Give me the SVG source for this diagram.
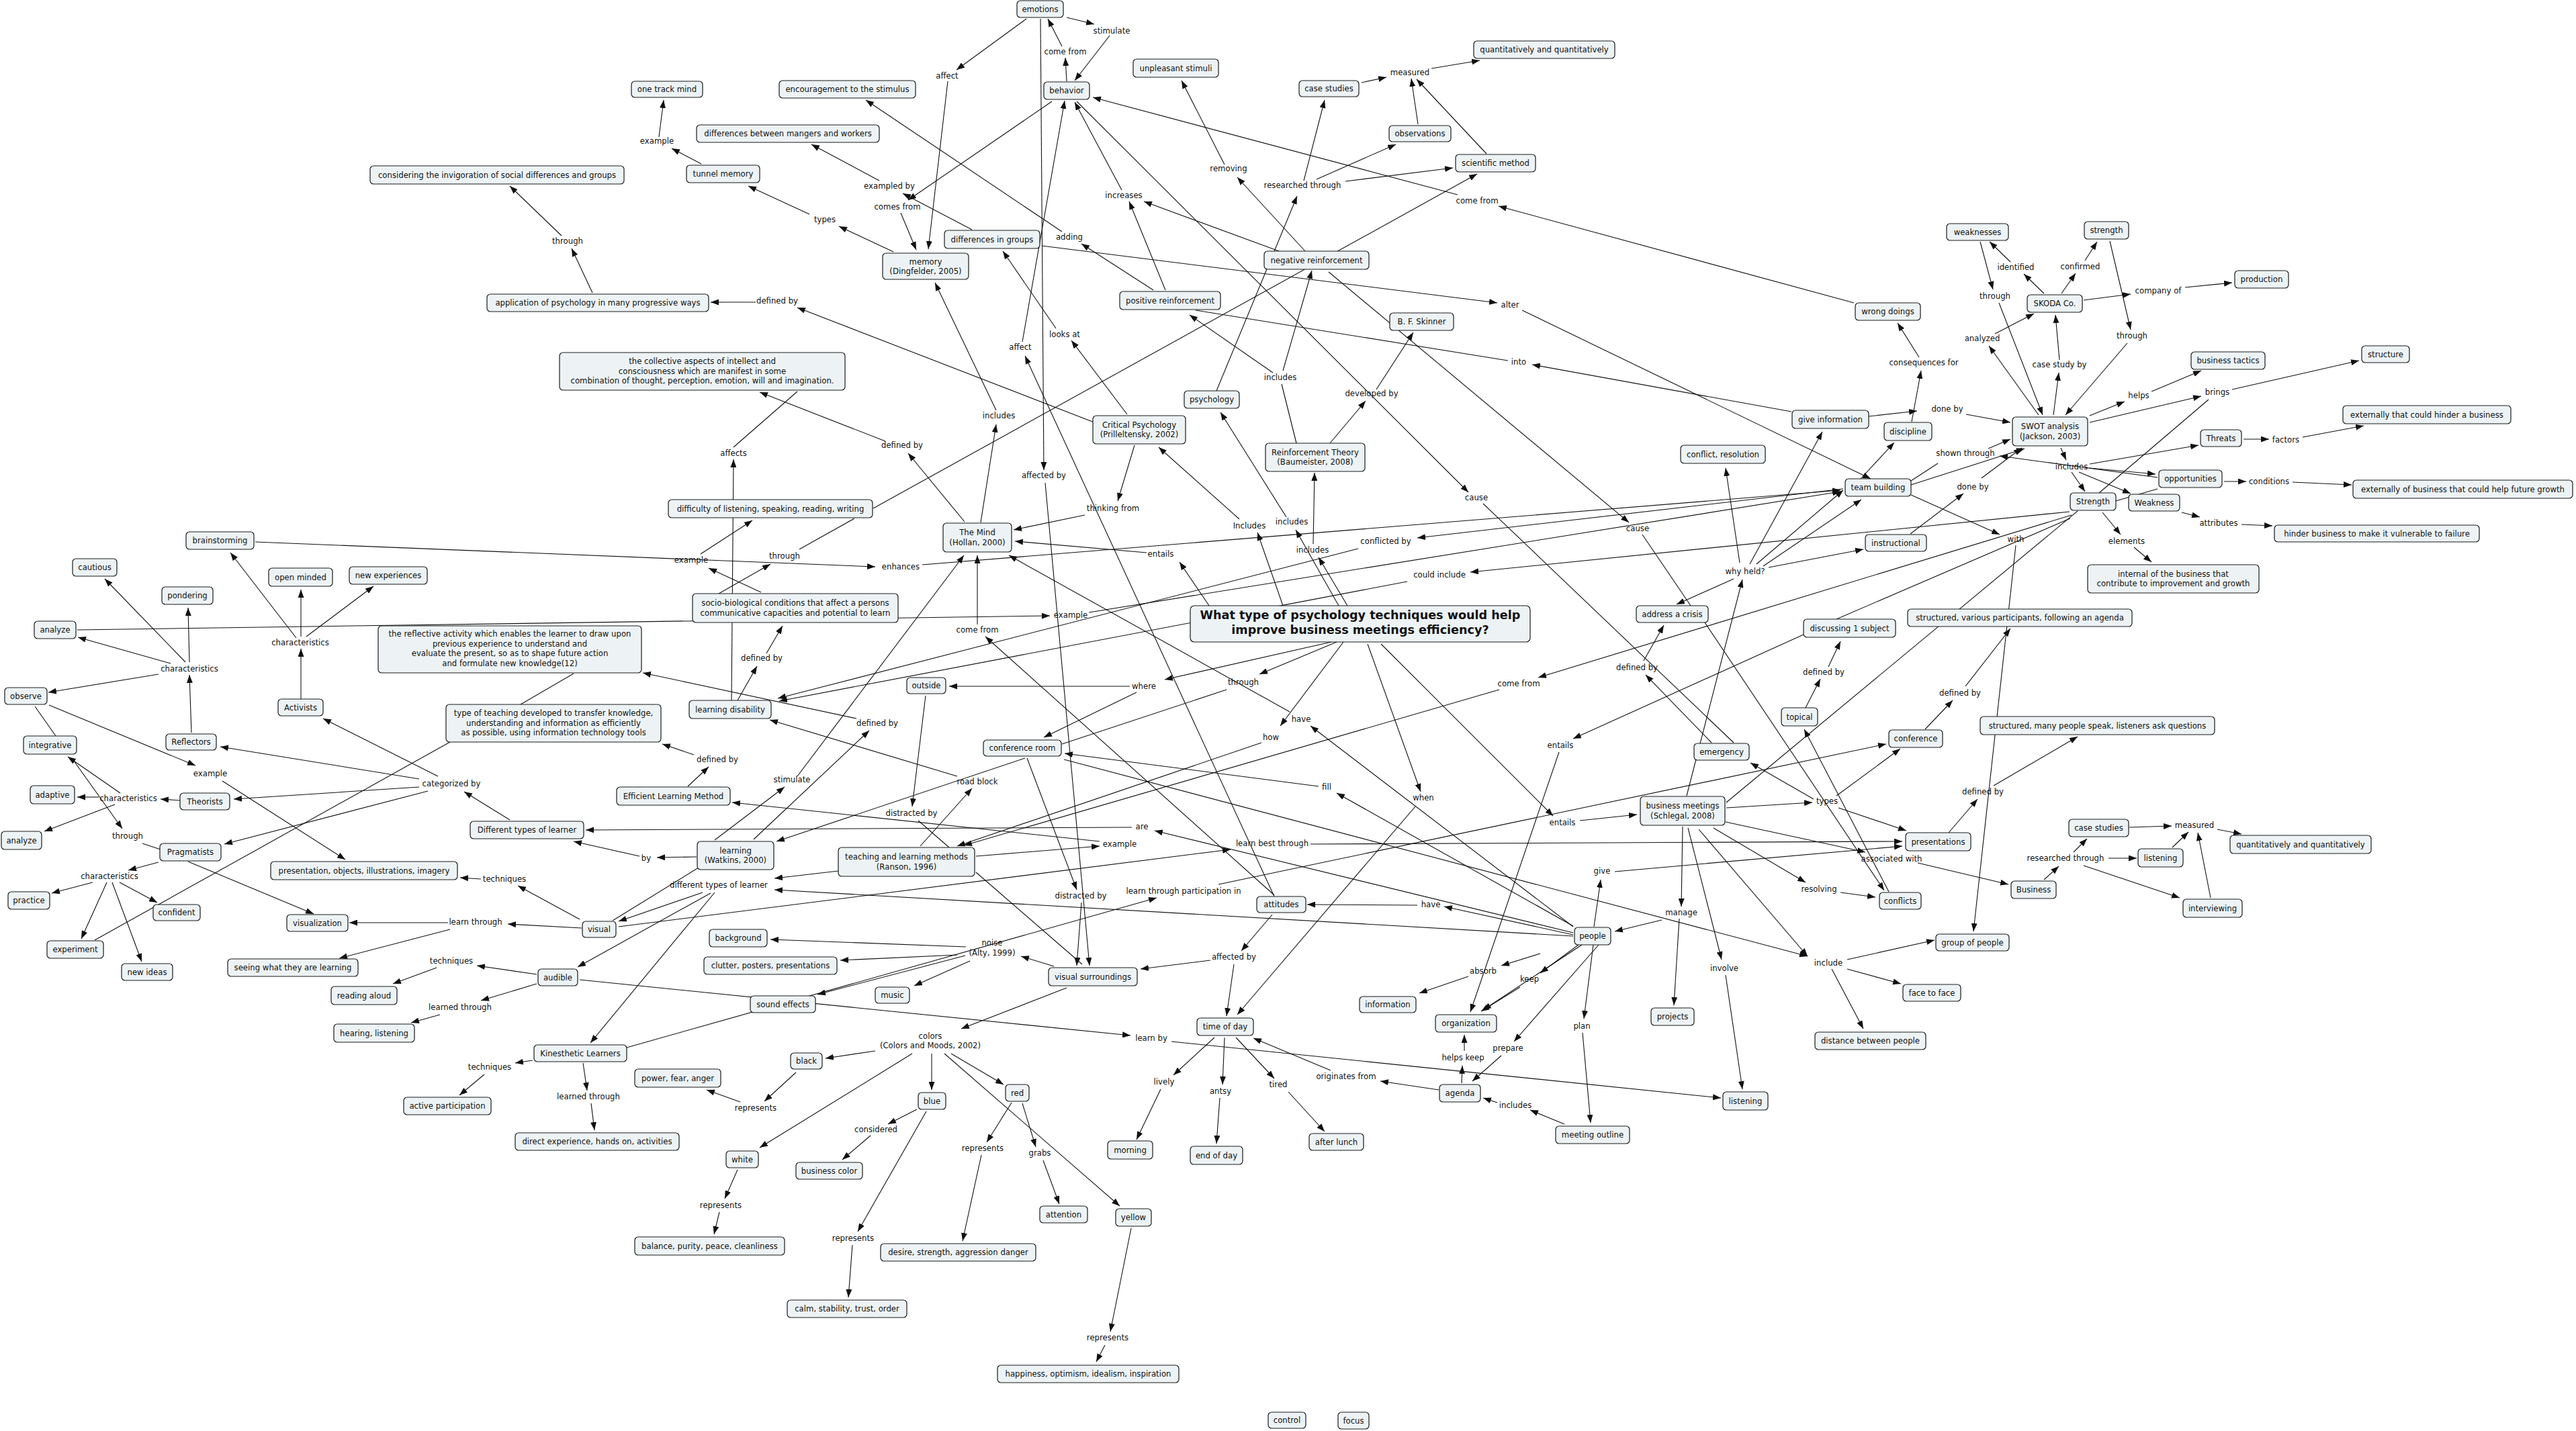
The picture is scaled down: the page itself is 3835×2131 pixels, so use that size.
<svg xmlns="http://www.w3.org/2000/svg" width="3835" height="2131" viewBox="0 0 3835 2131">
<style>
.n rect{fill:#edf3f5;stroke:#1a1a1a;stroke-width:1.2}
text{font-family:"DejaVu Sans","Liberation Sans",sans-serif;font-size:11.7px;fill:#111;text-anchor:middle}
.tt{font-weight:bold;font-size:17.6px}
#connectors line{stroke:#111;stroke-width:1.1;fill:none}
#connectors line.a{marker-end:url(#ah)}
</style>
<defs>
<marker id="ah" viewBox="0 0 12 9" refX="12" refY="4.5" markerWidth="12" markerHeight="9" orient="auto" markerUnits="userSpaceOnUse"><path d="M0,0 L12,4.5 L0,9 z" fill="#111"/></marker>
</defs>
<rect width="3835" height="2131" fill="#fff"/>
<g id="connectors">
<line class="a" x1="1528" y1="28" x2="1424" y2="104"/>
<line class="a" x1="1411" y1="121" x2="1382" y2="371"/>
<line class="a" x1="1588" y1="26" x2="1629" y2="36"/>
<line class="a" x1="1652" y1="53" x2="1600" y2="120"/>
<line class="a" x1="1588" y1="121" x2="1586" y2="86"/>
<line class="a" x1="1581" y1="69" x2="1560" y2="28"/>
<line class="a" x1="1549" y1="28" x2="1554" y2="700"/>
<line class="a" x1="1522" y1="509" x2="1585" y2="150"/>
<line class="a" x1="1897" y1="1335" x2="1526" y2="530"/>
<line class="a" x1="1566" y1="151" x2="1352" y2="298"/>
<line class="a" x1="1341" y1="317" x2="1364" y2="372"/>
<line class="a" x1="1330" y1="375" x2="1249" y2="337"/>
<line class="a" x1="1205" y1="319" x2="1114" y2="277"/>
<line class="a" x1="1044" y1="244" x2="1000" y2="221"/>
<line class="a" x1="981" y1="204" x2="988" y2="149"/>
<line class="a" x1="1447" y1="342" x2="1344" y2="288"/>
<line class="a" x1="1309" y1="269" x2="1208" y2="215"/>
<line class="a" x1="1717" y1="432" x2="1610" y2="363"/>
<line class="a" x1="1581" y1="345" x2="1289" y2="149"/>
<line class="a" x1="1735" y1="432" x2="1681" y2="300"/>
<line class="a" x1="1670" y1="283" x2="1600" y2="152"/>
<line class="a" x1="1915" y1="378" x2="1703" y2="300"/>
<line class="a" x1="1943" y1="374" x2="1842" y2="264"/>
<line class="a" x1="1823" y1="245" x2="1759" y2="120"/>
<line class="a" x1="1811" y1="582" x2="1931" y2="292"/>
<line class="a" x1="1941" y1="269" x2="1972" y2="149"/>
<line class="a" x1="1960" y1="267" x2="2078" y2="215"/>
<line class="a" x1="2003" y1="270" x2="2163" y2="250"/>
<line class="a" x1="2027" y1="123" x2="2064" y2="115"/>
<line class="a" x1="2111" y1="185" x2="2101" y2="117"/>
<line class="a" x1="2213" y1="229" x2="2109" y2="118"/>
<line class="a" x1="2131" y1="102" x2="2203" y2="90"/>
<line class="a" x1="2170" y1="290" x2="1627" y2="145"/>
<line class="a" x1="2760" y1="451" x2="2231" y2="307"/>
<line class="a" x1="1300" y1="757" x2="2199" y2="259"/>
<line class="a" x1="1551" y1="366" x2="2229" y2="451"/>
<line class="a" x1="2266" y1="462" x2="2785" y2="713"/>
<line class="a" x1="1603" y1="151" x2="2186" y2="733"/>
<line x1="2208" y1="750" x2="2581" y2="1106"/>
<line class="a" x1="1978" y1="405" x2="2425" y2="778"/>
<line x1="2445" y1="796" x2="2517" y2="902"/>
<line class="a" x1="2538" y1="927" x2="2805" y2="1326"/>
<line class="a" x1="2667" y1="613" x2="2281" y2="543"/>
<line x1="2245" y1="537" x2="1780" y2="462"/>
<line class="a" x1="2782" y1="620" x2="2854" y2="612"/>
<line class="a" x1="2927" y1="617" x2="2993" y2="629"/>
<line class="a" x1="2846" y1="628" x2="2860" y2="552"/>
<line class="a" x1="2857" y1="532" x2="2825" y2="481"/>
<line class="a" x1="2770" y1="713" x2="2820" y2="659"/>
<line class="a" x1="2605" y1="840" x2="2713" y2="643"/>
<line class="a" x1="2590" y1="838" x2="2569" y2="697"/>
<line class="a" x1="2615" y1="840" x2="2744" y2="730"/>
<line class="a" x1="2625" y1="843" x2="2771" y2="744"/>
<line class="a" x1="2633" y1="845" x2="2774" y2="818"/>
<line class="a" x1="2581" y1="862" x2="2496" y2="900"/>
<line class="a" x1="2511" y1="1185" x2="2594" y2="863"/>
<line class="a" x1="1629" y1="629" x2="1187" y2="458"/>
<line class="a" x1="1125" y1="450" x2="1058" y2="450"/>
<line class="a" x1="1678" y1="617" x2="1595" y2="507"/>
<line class="a" x1="1572" y1="489" x2="1493" y2="374"/>
<line class="a" x1="1460" y1="778" x2="1483" y2="632"/>
<line class="a" x1="1483" y1="611" x2="1392" y2="421"/>
<line class="a" x1="1436" y1="777" x2="1352" y2="675"/>
<line class="a" x1="1318" y1="657" x2="1131" y2="584"/>
<line class="a" x1="1089" y1="1043" x2="1092" y2="684"/>
<line x1="1092" y1="666" x2="1187" y2="583"/>
<line class="a" x1="1689" y1="663" x2="1664" y2="746"/>
<line class="a" x1="1615" y1="767" x2="1509" y2="789"/>
<line class="a" x1="1845" y1="773" x2="1725" y2="666"/>
<line class="a" x1="1910" y1="902" x2="1872" y2="793"/>
<line class="a" x1="1993" y1="902" x2="1929" y2="789"/>
<line class="a" x1="1915" y1="770" x2="1817" y2="614"/>
<line class="a" x1="2006" y1="902" x2="1963" y2="830"/>
<line class="a" x1="1955" y1="810" x2="1957" y2="704"/>
<line class="a" x1="1980" y1="660" x2="2033" y2="597"/>
<line class="a" x1="2049" y1="580" x2="2104" y2="495"/>
<line x1="1930" y1="660" x2="1908" y2="572"/>
<line class="a" x1="1895" y1="555" x2="1771" y2="469"/>
<line class="a" x1="1910" y1="552" x2="1953" y2="403"/>
<line class="a" x1="836" y1="351" x2="759" y2="277"/>
<line class="a" x1="882" y1="436" x2="851" y2="370"/>
<line class="a" x1="380" y1="807" x2="1303" y2="844"/>
<line class="a" x1="1373" y1="841" x2="2740" y2="730"/>
<line class="a" x1="441" y1="950" x2="343" y2="823"/>
<line class="a" x1="448" y1="948" x2="448" y2="878"/>
<line class="a" x1="456" y1="948" x2="556" y2="873"/>
<line class="a" x1="448" y1="1041" x2="448" y2="966"/>
<line class="a" x1="276" y1="986" x2="156" y2="862"/>
<line class="a" x1="282" y1="986" x2="280" y2="905"/>
<line class="a" x1="254" y1="988" x2="116" y2="949"/>
<line class="a" x1="236" y1="1004" x2="72" y2="1031"/>
<line class="a" x1="285" y1="1091" x2="282" y2="1005"/>
<line class="a" x1="115" y1="938" x2="1563" y2="917"/>
<line class="a" x1="73" y1="1050" x2="291" y2="1140"/>
<line class="a" x1="331" y1="1163" x2="514" y2="1280"/>
<line x1="52" y1="1052" x2="83" y2="1096"/>
<line class="a" x1="268" y1="1192" x2="239" y2="1190"/>
<line class="a" x1="147" y1="1187" x2="115" y2="1187"/>
<line class="a" x1="179" y1="1181" x2="101" y2="1127"/>
<line class="a" x1="171" y1="1198" x2="66" y2="1238"/>
<line class="a" x1="107" y1="1129" x2="182" y2="1234"/>
<line x1="212" y1="1256" x2="239" y2="1265"/>
<line class="a" x1="624" y1="1160" x2="328" y2="1112"/>
<line class="a" x1="652" y1="1156" x2="481" y2="1070"/>
<line class="a" x1="624" y1="1172" x2="348" y2="1190"/>
<line class="a" x1="637" y1="1178" x2="334" y2="1257"/>
<line class="a" x1="759" y1="1221" x2="691" y2="1179"/>
<line class="a" x1="236" y1="1284" x2="191" y2="1296"/>
<line class="a" x1="138" y1="1314" x2="77" y2="1330"/>
<line class="a" x1="178" y1="1314" x2="234" y2="1344"/>
<line class="a" x1="159" y1="1314" x2="121" y2="1398"/>
<line class="a" x1="167" y1="1314" x2="211" y2="1432"/>
<line class="a" x1="280" y1="1283" x2="467" y2="1361"/>
<line x1="775" y1="1049" x2="854" y2="1003"/>
<line x1="670" y1="1105" x2="141" y2="1400"/>
<line class="a" x1="1685" y1="1232" x2="872" y2="1236"/>
<line class="a" x1="952" y1="1275" x2="854" y2="1253"/>
<line class="a" x1="863" y1="1369" x2="771" y2="1319"/>
<line class="a" x1="716" y1="1309" x2="685" y2="1307"/>
<line class="a" x1="866" y1="1382" x2="756" y2="1376"/>
<line class="a" x1="667" y1="1374" x2="520" y2="1374"/>
<line class="a" x1="670" y1="1384" x2="505" y2="1427"/>
<line class="a" x1="1043" y1="825" x2="1120" y2="775"/>
<line class="a" x1="1133" y1="882" x2="1055" y2="846"/>
<line class="a" x1="1070" y1="884" x2="1147" y2="840"/>
<line x1="1190" y1="818" x2="1272" y2="772"/>
<line class="a" x1="1707" y1="823" x2="1511" y2="806"/>
<line class="a" x1="1800" y1="902" x2="1756" y2="837"/>
<line class="a" x1="1621" y1="912" x2="2740" y2="732"/>
<line class="a" x1="2744" y1="728" x2="2110" y2="801"/>
<line class="a" x1="2022" y1="817" x2="1158" y2="1040"/>
<line class="a" x1="2095" y1="866" x2="1160" y2="1044"/>
<line class="a" x1="3081" y1="762" x2="2189" y2="852"/>
<line class="a" x1="3084" y1="767" x2="2290" y2="1009"/>
<line class="a" x1="2232" y1="1027" x2="1435" y2="1259"/>
<line x1="2734" y1="922" x2="3082" y2="772"/>
<line x1="2570" y1="1195" x2="3093" y2="761"/>
<line x1="3125" y1="734" x2="3288" y2="595"/>
<line x1="3150" y1="746" x2="3212" y2="728"/>
<line class="a" x1="1455" y1="930" x2="1455" y2="827"/>
<line class="a" x1="1897" y1="1333" x2="1467" y2="948"/>
<line class="a" x1="1920" y1="1060" x2="1502" y2="827"/>
<line class="a" x1="2342" y1="1380" x2="1951" y2="1081"/>
<line class="a" x1="1982" y1="956" x2="1734" y2="1012"/>
<line class="a" x1="1682" y1="1022" x2="1413" y2="1022"/>
<line class="a" x1="1692" y1="1031" x2="1554" y2="1098"/>
<line class="a" x1="1990" y1="956" x2="1875" y2="1004"/>
<line x1="1826" y1="1027" x2="1581" y2="1108"/>
<line class="a" x1="2000" y1="956" x2="1906" y2="1081"/>
<line class="a" x1="1878" y1="1106" x2="1425" y2="1260"/>
<line class="a" x1="1526" y1="1129" x2="1156" y2="1253"/>
<line class="a" x1="1378" y1="1036" x2="1358" y2="1201"/>
<line x1="1367" y1="1222" x2="1413" y2="1262"/>
<line class="a" x1="1529" y1="1129" x2="1603" y2="1325"/>
<line class="a" x1="1610" y1="1344" x2="1603" y2="1438"/>
<line class="a" x1="1963" y1="1171" x2="1585" y2="1122"/>
<line class="a" x1="2342" y1="1379" x2="1990" y2="1181"/>
<line class="a" x1="1584" y1="1131" x2="2691" y2="1424"/>
<line class="a" x1="1064" y1="1251" x2="1168" y2="1172"/>
<line class="a" x1="1187" y1="1156" x2="1435" y2="827"/>
<line class="a" x1="1122" y1="1250" x2="1294" y2="1088"/>
<line class="a" x1="1275" y1="1070" x2="957" y2="1002"/>
<line class="a" x1="1024" y1="1171" x2="1055" y2="1142"/>
<line class="a" x1="1033" y1="1124" x2="986" y2="1108"/>
<line class="a" x1="1453" y1="1275" x2="1637" y2="1260"/>
<line class="a" x1="1637" y1="1253" x2="1090" y2="1195"/>
<line class="a" x1="1425" y1="1156" x2="1146" y2="1072"/>
<line class="a" x1="1370" y1="1260" x2="1447" y2="1174"/>
<line class="a" x1="1098" y1="1043" x2="1127" y2="992"/>
<line class="a" x1="1141" y1="973" x2="1165" y2="932"/>
<line class="a" x1="1037" y1="1276" x2="978" y2="1277"/>
<line class="a" x1="1248" y1="1297" x2="1153" y2="1308"/>
<line class="a" x1="1046" y1="1329" x2="921" y2="1372"/>
<line class="a" x1="1058" y1="1330" x2="860" y2="1440"/>
<line class="a" x1="1064" y1="1329" x2="879" y2="1553"/>
<line class="a" x1="921" y1="1380" x2="1832" y2="1265"/>
<line class="a" x1="1951" y1="1257" x2="2832" y2="1253"/>
<line class="a" x1="933" y1="1560" x2="1722" y2="1337"/>
<line class="a" x1="1814" y1="1317" x2="2808" y2="1108"/>
<line x1="912" y1="1371" x2="1040" y2="1292"/>
<line x1="1453" y1="1299" x2="1611" y2="1436"/>
<line class="a" x1="1556" y1="719" x2="1622" y2="1438"/>
<line class="a" x1="1894" y1="1362" x2="1848" y2="1416"/>
<line class="a" x1="1837" y1="1436" x2="1826" y2="1513"/>
<line class="a" x1="1802" y1="1430" x2="1698" y2="1443"/>
<line class="a" x1="2107" y1="1201" x2="1842" y2="1511"/>
<line class="a" x1="2036" y1="959" x2="2115" y2="1179"/>
<line class="a" x1="2056" y1="959" x2="2312" y2="1215"/>
<line class="a" x1="2352" y1="1222" x2="2437" y2="1213"/>
<line class="a" x1="2570" y1="1203" x2="2698" y2="1195"/>
<line class="a" x1="2700" y1="1190" x2="2606" y2="1136"/>
<line class="a" x1="2734" y1="1185" x2="2829" y2="1115"/>
<line class="a" x1="2737" y1="1203" x2="2838" y2="1237"/>
<line class="a" x1="2688" y1="1054" x2="2710" y2="1011"/>
<line class="a" x1="2722" y1="993" x2="2740" y2="955"/>
<line class="a" x1="2685" y1="945" x2="2342" y2="1100"/>
<line class="a" x1="2321" y1="1120" x2="2189" y2="1507"/>
<line class="a" x1="2548" y1="1106" x2="2450" y2="1005"/>
<line class="a" x1="2447" y1="984" x2="2477" y2="931"/>
<line class="a" x1="2373" y1="1380" x2="2383" y2="1310"/>
<line class="a" x1="2404" y1="1298" x2="2832" y2="1260"/>
<line class="a" x1="2505" y1="1231" x2="2503" y2="1350"/>
<line class="a" x1="2474" y1="1370" x2="2404" y2="1387"/>
<line class="a" x1="2500" y1="1368" x2="2492" y2="1497"/>
<line class="a" x1="2551" y1="1233" x2="2688" y2="1314"/>
<line class="a" x1="2740" y1="1329" x2="2792" y2="1336"/>
<line class="a" x1="2513" y1="1233" x2="2563" y2="1429"/>
<line class="a" x1="2569" y1="1452" x2="2594" y2="1622"/>
<line class="a" x1="2529" y1="1235" x2="2691" y2="1424"/>
<line class="a" x1="2750" y1="1443" x2="2830" y2="1465"/>
<line class="a" x1="2727" y1="1443" x2="2774" y2="1532"/>
<line class="a" x1="2750" y1="1429" x2="2880" y2="1400"/>
<line class="a" x1="2569" y1="1224" x2="2777" y2="1269"/>
<line class="a" x1="2855" y1="1285" x2="2990" y2="1317"/>
<line class="a" x1="2812" y1="1328" x2="2686" y2="1086"/>
<line class="a" x1="2866" y1="1086" x2="2907" y2="1043"/>
<line class="a" x1="2926" y1="1022" x2="2993" y2="936"/>
<line class="a" x1="2901" y1="1240" x2="2944" y2="1190"/>
<line class="a" x1="2968" y1="1170" x2="3093" y2="1097"/>
<line class="a" x1="3001" y1="812" x2="2938" y2="1387"/>
<line class="a" x1="2845" y1="737" x2="2977" y2="796"/>
<line class="a" x1="3043" y1="1310" x2="3065" y2="1290"/>
<line class="a" x1="3087" y1="1269" x2="3107" y2="1249"/>
<line class="a" x1="3139" y1="1278" x2="3181" y2="1278"/>
<line class="a" x1="3102" y1="1289" x2="3245" y2="1337"/>
<line class="a" x1="3170" y1="1232" x2="3233" y2="1230"/>
<line class="a" x1="3234" y1="1262" x2="3258" y2="1239"/>
<line class="a" x1="3291" y1="1337" x2="3272" y2="1240"/>
<line class="a" x1="3301" y1="1235" x2="3337" y2="1242"/>
<line class="a" x1="3130" y1="763" x2="3157" y2="796"/>
<line class="a" x1="3177" y1="815" x2="3203" y2="837"/>
<line class="a" x1="3248" y1="763" x2="3275" y2="770"/>
<line class="a" x1="3337" y1="781" x2="3383" y2="783"/>
<line class="a" x1="3311" y1="717" x2="3344" y2="717"/>
<line class="a" x1="3413" y1="718" x2="3501" y2="722"/>
<line class="a" x1="3043" y1="437" x2="3013" y2="408"/>
<line class="a" x1="2993" y1="390" x2="2962" y2="360"/>
<line class="a" x1="3069" y1="437" x2="3090" y2="407"/>
<line class="a" x1="3104" y1="388" x2="3122" y2="360"/>
<line class="a" x1="2948" y1="360" x2="2967" y2="431"/>
<line class="a" x1="2976" y1="451" x2="3041" y2="618"/>
<line class="a" x1="3141" y1="359" x2="3172" y2="491"/>
<line class="a" x1="3167" y1="511" x2="3075" y2="618"/>
<line class="a" x1="3102" y1="447" x2="3172" y2="438"/>
<line class="a" x1="3253" y1="428" x2="3323" y2="421"/>
<line class="a" x1="3035" y1="618" x2="2961" y2="515"/>
<line class="a" x1="2970" y1="497" x2="3028" y2="467"/>
<line class="a" x1="3057" y1="618" x2="3065" y2="555"/>
<line class="a" x1="3066" y1="536" x2="3060" y2="469"/>
<line class="a" x1="3111" y1="619" x2="3163" y2="598"/>
<line class="a" x1="3203" y1="583" x2="3277" y2="552"/>
<line class="a" x1="3111" y1="629" x2="3277" y2="590"/>
<line class="a" x1="3323" y1="580" x2="3512" y2="537"/>
<line class="a" x1="3340" y1="654" x2="3378" y2="654"/>
<line class="a" x1="3428" y1="651" x2="3519" y2="634"/>
<line class="a" x1="3068" y1="667" x2="3076" y2="685"/>
<line class="a" x1="3111" y1="691" x2="3273" y2="663"/>
<line class="a" x1="3111" y1="697" x2="3209" y2="706"/>
<line class="a" x1="3084" y1="703" x2="3104" y2="732"/>
<line class="a" x1="3095" y1="703" x2="3172" y2="735"/>
<line class="a" x1="3212" y1="711" x2="2977" y2="679"/>
<line x1="2845" y1="716" x2="2885" y2="690"/>
<line class="a" x1="2960" y1="668" x2="2993" y2="654"/>
<line class="a" x1="2845" y1="722" x2="3014" y2="668"/>
<line class="a" x1="2844" y1="795" x2="2923" y2="735"/>
<line class="a" x1="2950" y1="712" x2="3010" y2="667"/>
<line class="a" x1="2342" y1="1389" x2="1719" y2="1237"/>
<line class="a" x1="2342" y1="1394" x2="1153" y2="1325"/>
<line class="a" x1="2342" y1="1392" x2="2150" y2="1350"/>
<line class="a" x1="2110" y1="1348" x2="1946" y2="1347"/>
<line class="a" x1="1588" y1="1471" x2="1431" y2="1532"/>
<line class="a" x1="1569" y1="1439" x2="1520" y2="1424"/>
<line class="a" x1="1438" y1="1410" x2="1147" y2="1399"/>
<line class="a" x1="1425" y1="1422" x2="1251" y2="1430"/>
<line class="a" x1="1437" y1="1423" x2="1217" y2="1481"/>
<line class="a" x1="1444" y1="1431" x2="1361" y2="1468"/>
<line class="a" x1="863" y1="1459" x2="1683" y2="1542"/>
<line class="a" x1="1744" y1="1551" x2="2562" y2="1635"/>
<line class="a" x1="799" y1="1451" x2="710" y2="1438"/>
<line class="a" x1="650" y1="1441" x2="585" y2="1465"/>
<line class="a" x1="799" y1="1465" x2="716" y2="1490"/>
<line class="a" x1="655" y1="1511" x2="612" y2="1523"/>
<line class="a" x1="793" y1="1579" x2="767" y2="1583"/>
<line class="a" x1="721" y1="1600" x2="684" y2="1631"/>
<line class="a" x1="868" y1="1583" x2="874" y2="1624"/>
<line class="a" x1="880" y1="1643" x2="885" y2="1683"/>
<line class="a" x1="1303" y1="1565" x2="1229" y2="1576"/>
<line class="a" x1="1185" y1="1597" x2="1138" y2="1640"/>
<line class="a" x1="1102" y1="1641" x2="1052" y2="1623"/>
<line class="a" x1="1358" y1="1569" x2="1131" y2="1709"/>
<line class="a" x1="1098" y1="1742" x2="1079" y2="1785"/>
<line class="a" x1="1071" y1="1805" x2="1063" y2="1838"/>
<line class="a" x1="1387" y1="1569" x2="1387" y2="1623"/>
<line class="a" x1="1365" y1="1652" x2="1322" y2="1674"/>
<line class="a" x1="1296" y1="1691" x2="1254" y2="1727"/>
<line class="a" x1="1379" y1="1655" x2="1277" y2="1834"/>
<line class="a" x1="1269" y1="1854" x2="1263" y2="1932"/>
<line class="a" x1="1416" y1="1569" x2="1494" y2="1615"/>
<line class="a" x1="1506" y1="1642" x2="1469" y2="1701"/>
<line class="a" x1="1461" y1="1720" x2="1433" y2="1848"/>
<line class="a" x1="1522" y1="1643" x2="1542" y2="1708"/>
<line class="a" x1="1553" y1="1728" x2="1577" y2="1793"/>
<line class="a" x1="1406" y1="1569" x2="1667" y2="1796"/>
<line class="a" x1="1684" y1="1829" x2="1653" y2="1983"/>
<line class="a" x1="1645" y1="2003" x2="1632" y2="2028"/>
<line class="a" x1="1808" y1="1545" x2="1747" y2="1601"/>
<line class="a" x1="1728" y1="1622" x2="1692" y2="1697"/>
<line class="a" x1="1823" y1="1545" x2="1820" y2="1615"/>
<line class="a" x1="1816" y1="1635" x2="1811" y2="1703"/>
<line class="a" x1="1840" y1="1545" x2="1897" y2="1606"/>
<line class="a" x1="1918" y1="1626" x2="1972" y2="1685"/>
<line class="a" x1="2293" y1="1420" x2="2235" y2="1438"/>
<line class="a" x1="2186" y1="1454" x2="2113" y2="1479"/>
<line class="a" x1="2350" y1="1407" x2="2293" y2="1449"/>
<line class="a" x1="2263" y1="1470" x2="2205" y2="1506"/>
<line class="a" x1="2355" y1="1407" x2="2208" y2="1504"/>
<line class="a" x1="2380" y1="1407" x2="2254" y2="1551"/>
<line class="a" x1="2235" y1="1572" x2="2192" y2="1610"/>
<line class="a" x1="2372" y1="1407" x2="2358" y2="1517"/>
<line class="a" x1="2356" y1="1538" x2="2368" y2="1672"/>
<line class="a" x1="2329" y1="1674" x2="2278" y2="1653"/>
<line class="a" x1="2229" y1="1642" x2="2208" y2="1635"/>
<line class="a" x1="2176" y1="1613" x2="2177" y2="1587"/>
<line class="a" x1="2180" y1="1565" x2="2180" y2="1541"/>
<line class="a" x1="2142" y1="1623" x2="2055" y2="1610"/>
<line class="a" x1="1981" y1="1594" x2="1866" y2="1546"/>
</g>
<g id="nodes">
<g id="n-emotions" class="n"><rect x="1514" y="1" width="69" height="25" rx="5"/><text x="1548.5" y="17.5">emotions</text></g>
<g id="n-unpleasant" class="n"><rect x="1687" y="88" width="127" height="27" rx="5"/><text x="1750.5" y="105.5">unpleasant stimuli</text></g>
<g id="n-behavior" class="n"><rect x="1554" y="122" width="68" height="26" rx="5"/><text x="1588" y="139">behavior</text></g>
<g id="n-encouragement" class="n"><rect x="1160" y="120" width="203" height="26" rx="5"/><text x="1261.5" y="137">encouragement to the stimulus</text></g>
<g id="n-onetrack" class="n"><rect x="940" y="121" width="106" height="24" rx="5"/><text x="993" y="137">one track mind</text></g>
<g id="n-diffmangers" class="n"><rect x="1037" y="186" width="272" height="26" rx="5"/><text x="1173" y="203">differences between mangers and workers</text></g>
<g id="n-considering" class="n"><rect x="551" y="247" width="378" height="27" rx="5"/><text x="740" y="264.5">considering the invigoration of social differences and groups</text></g>
<g id="n-tunnel" class="n"><rect x="1022" y="246" width="109" height="26" rx="5"/><text x="1076.5" y="263">tunnel memory</text></g>
<g id="n-diffgroups" class="n"><rect x="1406" y="343" width="142" height="27" rx="5"/><text x="1477" y="360.5">differences in groups</text></g>
<g id="n-memory" class="n"><rect x="1314" y="377" width="128" height="39" rx="5"/><text x="1378" y="393.5">memory</text><text x="1378" y="408">(Dingfelder, 2005)</text></g>
<g id="n-negative" class="n"><rect x="1882" y="374" width="156" height="27" rx="5"/><text x="1960" y="391.5">negative reinforcement</text></g>
<g id="n-positive" class="n"><rect x="1667" y="434" width="150" height="27" rx="5"/><text x="1742" y="451.5">positive reinforcement</text></g>
<g id="n-application" class="n"><rect x="725" y="438" width="330" height="26" rx="5"/><text x="890" y="455">application of psychology in many progressive ways</text></g>
<g id="n-collective" class="n"><rect x="833" y="525" width="425" height="56" rx="5"/><text x="1045.5" y="542">the collective aspects of intellect and</text><text x="1045.5" y="556.5">consciousness which are manifest in some</text><text x="1045.5" y="571">combination of thought, perception, emotion, will and imagination.</text></g>
<g id="n-psychology" class="n"><rect x="1763" y="582" width="82" height="26" rx="5"/><text x="1804" y="599">psychology</text></g>
<g id="n-critical" class="n"><rect x="1627" y="619" width="138" height="42" rx="5"/><text x="1696" y="636.5">Critical Psychology</text><text x="1696" y="651">(Prilleltensky, 2002)</text></g>
<g id="n-rt" class="n"><rect x="1884" y="660" width="148" height="42" rx="5"/><text x="1958" y="677.5">Reinforcement Theory</text><text x="1958" y="692">(Baumeister, 2008)</text></g>
<g id="n-quant1" class="n"><rect x="2194" y="61" width="210" height="26" rx="5"/><text x="2299" y="78">quantitatively and quantitatively</text></g>
<g id="n-casestudies1" class="n"><rect x="1934" y="120" width="89" height="24" rx="5"/><text x="1978.5" y="136">case studies</text></g>
<g id="n-observations" class="n"><rect x="2068" y="187" width="92" height="24" rx="5"/><text x="2114" y="203">observations</text></g>
<g id="n-scientific" class="n"><rect x="2167" y="230" width="119" height="26" rx="5"/><text x="2226.5" y="247">scientific method</text></g>
<g id="n-skinner" class="n"><rect x="2069" y="466" width="95" height="26" rx="5"/><text x="2116.5" y="483">B. F. Skinner</text></g>
<g id="n-wrong" class="n"><rect x="2762" y="451" width="97" height="26" rx="5"/><text x="2810.5" y="468">wrong doings</text></g>
<g id="n-giveinfo" class="n"><rect x="2668" y="611" width="114" height="27" rx="5"/><text x="2725" y="628.5">give information</text></g>
<g id="n-discipline" class="n"><rect x="2805" y="629" width="71" height="27" rx="5"/><text x="2840.5" y="646.5">discipline</text></g>
<g id="n-conflictres" class="n"><rect x="2502" y="663" width="126" height="27" rx="5"/><text x="2565" y="680.5">conflict, resolution</text></g>
<g id="n-weaknesses" class="n"><rect x="2898" y="333" width="92" height="25" rx="5"/><text x="2944" y="349.5">weaknesses</text></g>
<g id="n-strength" class="n"><rect x="3103" y="330" width="66" height="26" rx="5"/><text x="3136" y="347">strength</text></g>
<g id="n-production" class="n"><rect x="3327" y="403" width="80" height="26" rx="5"/><text x="3367" y="420">production</text></g>
<g id="n-skoda" class="n"><rect x="3018" y="439" width="82" height="26" rx="5"/><text x="3059" y="456">SKODA Co.</text></g>
<g id="n-tactics" class="n"><rect x="3262" y="524" width="110" height="26" rx="5"/><text x="3317" y="541">business tactics</text></g>
<g id="n-structure" class="n"><rect x="3516" y="515" width="71" height="25" rx="5"/><text x="3551.5" y="531.5">structure</text></g>
<g id="n-hinderext" class="n"><rect x="3488" y="604" width="250" height="27" rx="5"/><text x="3613" y="621.5">externally that could hinder a business</text></g>
<g id="n-swot" class="n"><rect x="2996" y="621" width="112" height="43" rx="5"/><text x="3052" y="639">SWOT analysis</text><text x="3052" y="653.5">(Jackson, 2003)</text></g>
<g id="n-threats" class="n"><rect x="3276" y="640" width="61" height="25" rx="5"/><text x="3306.5" y="656.5">Threats</text></g>
<g id="n-opportunities" class="n"><rect x="3214" y="700" width="94" height="26" rx="5"/><text x="3261" y="717">opportunities</text></g>
<g id="n-helpext" class="n"><rect x="3503" y="715" width="327" height="27" rx="5"/><text x="3666.5" y="732.5">externally of business that could help future growth</text></g>
<g id="n-strength2" class="n"><rect x="3082" y="734" width="68" height="26" rx="5"/><text x="3116" y="751">Strength</text></g>
<g id="n-weakness" class="n"><rect x="3169" y="736" width="76" height="25" rx="5"/><text x="3207" y="752.5">Weakness</text></g>
<g id="n-hinderfail" class="n"><rect x="3386" y="782" width="305" height="25" rx="5"/><text x="3538.5" y="798.5">hinder business  to make it vulnerable to failure</text></g>
<g id="n-internal" class="n"><rect x="3108" y="841" width="255" height="42" rx="5"/><text x="3235.5" y="858.5">internal of the business that</text><text x="3235.5" y="873">contribute to improvement and growth</text></g>
<g id="n-structvarious" class="n"><rect x="2840" y="907" width="334" height="26" rx="5"/><text x="3007" y="924">structured, various participants, following an agenda</text></g>
<g id="n-structmany" class="n"><rect x="2948" y="1067" width="349" height="27" rx="5"/><text x="3122.5" y="1084.5">structured, many people speak, listeners ask questions</text></g>
<g id="n-casestudies2" class="n"><rect x="3080" y="1220" width="89" height="26" rx="5"/><text x="3124.5" y="1237">case studies</text></g>
<g id="n-quant2" class="n"><rect x="3320" y="1244" width="210" height="27" rx="5"/><text x="3425" y="1261.5">quantitatively and quantitatively</text></g>
<g id="n-presentations" class="n"><rect x="2837" y="1240" width="97" height="27" rx="5"/><text x="2885.5" y="1257.5">presentations</text></g>
<g id="n-listening1" class="n"><rect x="3183" y="1264" width="67" height="27" rx="5"/><text x="3216.5" y="1281.5">listening</text></g>
<g id="n-business" class="n"><rect x="2994" y="1312" width="67" height="26" rx="5"/><text x="3027.5" y="1329">Business</text></g>
<g id="n-interviewing" class="n"><rect x="3250" y="1339" width="88" height="27" rx="5"/><text x="3294" y="1356.5">interviewing</text></g>
<g id="n-groupofpeople" class="n"><rect x="2882" y="1391" width="109" height="25" rx="5"/><text x="2936.5" y="1407.5">group of people</text></g>
<g id="n-teambuilding" class="n"><rect x="2747" y="713" width="98" height="26" rx="5"/><text x="2796" y="730">team building</text></g>
<g id="n-instructional" class="n"><rect x="2777" y="796" width="91" height="25" rx="5"/><text x="2822.5" y="812.5">instructional</text></g>
<g id="n-addresscrisis" class="n"><rect x="2436" y="902" width="107" height="25" rx="5"/><text x="2489.5" y="918.5">address a crisis</text></g>
<g id="n-discussing" class="n"><rect x="2685" y="922" width="137" height="27" rx="5"/><text x="2753.5" y="939.5">discussing 1 subject</text></g>
<g id="n-topical" class="n"><rect x="2652" y="1054" width="54" height="27" rx="5"/><text x="2679" y="1071.5">topical</text></g>
<g id="n-conference" class="n"><rect x="2812" y="1087" width="80" height="26" rx="5"/><text x="2852" y="1104">conference</text></g>
<g id="n-emergency" class="n"><rect x="2522" y="1107" width="82" height="25" rx="5"/><text x="2563" y="1123.5">emergency</text></g>
<g id="n-bizmeetings" class="n"><rect x="2442" y="1186" width="126" height="43" rx="5"/><text x="2505" y="1204">business meetings</text><text x="2505" y="1218.5">(Schlegal, 2008)</text></g>
<g id="n-conflicts" class="n"><rect x="2798" y="1329" width="62" height="25" rx="5"/><text x="2829" y="1345.5">conflicts</text></g>
<g id="n-people" class="n"><rect x="2344" y="1381" width="54" height="26" rx="5"/><text x="2371" y="1398">people</text></g>
<g id="n-title" class="n"><rect x="1772" y="902" width="506" height="54" rx="6"/><text class="tt" x="2025" y="922">What type of psychology techniques would help</text><text class="tt" x="2025" y="944">improve business meetings efficiency?</text></g>
<g id="n-difficulty" class="n"><rect x="995" y="744" width="304" height="27" rx="5"/><text x="1147" y="761.5">difficulty of listening, speaking, reading, writing</text></g>
<g id="n-themind" class="n"><rect x="1404" y="779" width="102" height="43" rx="5"/><text x="1455" y="797">The Mind</text><text x="1455" y="811.5">(Hollan, 2000)</text></g>
<g id="n-socio" class="n"><rect x="1031" y="884" width="306" height="43" rx="5"/><text x="1184" y="902">socio-biological conditions that affect a persons</text><text x="1184" y="916.5">communicative capacities and potential to learn</text></g>
<g id="n-outside" class="n"><rect x="1350" y="1009" width="58" height="24" rx="5"/><text x="1379" y="1025">outside</text></g>
<g id="n-ld" class="n"><rect x="1026" y="1043" width="122" height="27" rx="5"/><text x="1087" y="1060.5">learning disability</text></g>
<g id="n-confroom" class="n"><rect x="1464" y="1102" width="116" height="24" rx="5"/><text x="1522" y="1118">conference room</text></g>
<g id="n-learning" class="n"><rect x="1038" y="1253" width="114" height="42" rx="5"/><text x="1095" y="1270.5">learning</text><text x="1095" y="1285">(Watkins, 2000)</text></g>
<g id="n-teaching" class="n"><rect x="1248" y="1262" width="203" height="43" rx="5"/><text x="1349.5" y="1280">teaching and learning methods</text><text x="1349.5" y="1294.5">(Ranson, 1996)</text></g>
<g id="n-attitudes" class="n"><rect x="1871" y="1335" width="73" height="24" rx="5"/><text x="1907.5" y="1351">attitudes</text></g>
<g id="n-background" class="n"><rect x="1056" y="1384" width="86" height="26" rx="5"/><text x="1099" y="1401">background</text></g>
<g id="n-brainstorming" class="n"><rect x="277" y="792" width="101" height="26" rx="5"/><text x="327.5" y="809">brainstorming</text></g>
<g id="n-cautious" class="n"><rect x="108" y="832" width="66" height="26" rx="5"/><text x="141" y="849">cautious</text></g>
<g id="n-openminded" class="n"><rect x="400" y="846" width="95" height="27" rx="5"/><text x="447.5" y="863.5">open minded</text></g>
<g id="n-newexp" class="n"><rect x="520" y="844" width="116" height="26" rx="5"/><text x="578" y="861">new experiences</text></g>
<g id="n-pondering" class="n"><rect x="241" y="874" width="76" height="26" rx="5"/><text x="279" y="891">pondering</text></g>
<g id="n-analyze1" class="n"><rect x="51" y="925" width="62" height="26" rx="5"/><text x="82" y="942">analyze</text></g>
<g id="n-reflective" class="n"><rect x="563" y="932" width="392" height="70" rx="5"/><text x="759" y="948">the reflective activity which enables the learner to draw upon</text><text x="759" y="963">previous experience to understand and</text><text x="759" y="977">evaluate the present, so as to shape future action</text><text x="759" y="992">and formulate new knowledge(12)</text></g>
<g id="n-observe" class="n"><rect x="7" y="1024" width="63" height="25" rx="5"/><text x="38.5" y="1040.5">observe</text></g>
<g id="n-activists" class="n"><rect x="414" y="1041" width="67" height="25" rx="5"/><text x="447.5" y="1057.5">Activists</text></g>
<g id="n-typeteaching" class="n"><rect x="664" y="1049" width="320" height="56" rx="5"/><text x="824" y="1066">type of teaching developed to transfer knowledge,</text><text x="824" y="1080.5">understanding and information as efficiently</text><text x="824" y="1095">as possible, using information technology tools</text></g>
<g id="n-integrative" class="n"><rect x="35" y="1096" width="79" height="27" rx="5"/><text x="74.5" y="1113.5">integrative</text></g>
<g id="n-reflectors" class="n"><rect x="247" y="1093" width="75" height="24" rx="5"/><text x="284.5" y="1109">Reflectors</text></g>
<g id="n-adaptive" class="n"><rect x="45" y="1170" width="66" height="27" rx="5"/><text x="78" y="1187.5">adaptive</text></g>
<g id="n-theorists" class="n"><rect x="268" y="1181" width="74" height="25" rx="5"/><text x="305" y="1197.5">Theorists</text></g>
<g id="n-elm" class="n"><rect x="918" y="1172" width="169" height="27" rx="5"/><text x="1002.5" y="1189.5">Efficient Learning Method</text></g>
<g id="n-dtl" class="n"><rect x="700" y="1223" width="169" height="26" rx="5"/><text x="784.5" y="1240">Different types of learner</text></g>
<g id="n-analyze2" class="n"><rect x="2" y="1238" width="60" height="27" rx="5"/><text x="32" y="1255.5">analyze</text></g>
<g id="n-pragmatists" class="n"><rect x="238" y="1256" width="91" height="26" rx="5"/><text x="283.5" y="1273">Pragmatists</text></g>
<g id="n-presentation" class="n"><rect x="403" y="1283" width="278" height="27" rx="5"/><text x="542" y="1300.5">presentation, objects, illustrations, imagery</text></g>
<g id="n-practice" class="n"><rect x="12" y="1328" width="62" height="26" rx="5"/><text x="43" y="1345">practice</text></g>
<g id="n-confident" class="n"><rect x="228" y="1347" width="70" height="24" rx="5"/><text x="263" y="1363">confident</text></g>
<g id="n-visualization" class="n"><rect x="427" y="1362" width="91" height="25" rx="5"/><text x="472.5" y="1378.5">visualization</text></g>
<g id="n-visual" class="n"><rect x="867" y="1372" width="50" height="24" rx="5"/><text x="892" y="1388">visual</text></g>
<g id="n-experiment" class="n"><rect x="70" y="1401" width="84" height="26" rx="5"/><text x="112" y="1418">experiment</text></g>
<g id="n-newideas" class="n"><rect x="181" y="1435" width="76" height="25" rx="5"/><text x="219" y="1451.5">new ideas</text></g>
<g id="n-seeing" class="n"><rect x="339" y="1428" width="194" height="26" rx="5"/><text x="436" y="1445">seeing what they are learning</text></g>
<g id="n-audible" class="n"><rect x="801" y="1443" width="59" height="25" rx="5"/><text x="830.5" y="1459.5">audible</text></g>
<g id="n-reading" class="n"><rect x="493" y="1469" width="98" height="27" rx="5"/><text x="542" y="1486.5">reading aloud</text></g>
<g id="n-hearing" class="n"><rect x="497" y="1525" width="120" height="27" rx="5"/><text x="557" y="1542.5">hearing, listening</text></g>
<g id="n-kinesthetic" class="n"><rect x="795" y="1556" width="138" height="25" rx="5"/><text x="864" y="1572.5">Kinesthetic Learners</text></g>
<g id="n-active" class="n"><rect x="601" y="1634" width="130" height="26" rx="5"/><text x="666" y="1651">active participation</text></g>
<g id="n-direct" class="n"><rect x="767" y="1687" width="244" height="26" rx="5"/><text x="889" y="1704">direct experience, hands on, activities</text></g>
<g id="n-power" class="n"><rect x="945" y="1592" width="128" height="27" rx="5"/><text x="1009" y="1609.5">power, fear, anger</text></g>
<g id="n-balance" class="n"><rect x="945" y="1842" width="223" height="27" rx="5"/><text x="1056.5" y="1859.5">balance, purity, peace, cleanliness</text></g>
<g id="n-clutter" class="n"><rect x="1048" y="1425" width="198" height="26" rx="5"/><text x="1147" y="1442">clutter, posters, presentations</text></g>
<g id="n-visualsurr" class="n"><rect x="1561" y="1441" width="132" height="27" rx="5"/><text x="1627" y="1458.5">visual surroundings</text></g>
<g id="n-music" class="n"><rect x="1303" y="1470" width="51" height="24" rx="5"/><text x="1328.5" y="1486">music</text></g>
<g id="n-soundeffects" class="n"><rect x="1117" y="1483" width="97" height="25" rx="5"/><text x="1165.5" y="1499.5">sound effects</text></g>
<g id="n-timeofday" class="n"><rect x="1782" y="1516" width="84" height="26" rx="5"/><text x="1824" y="1533">time of day</text></g>
<g id="n-black" class="n"><rect x="1177" y="1568" width="47" height="24" rx="5"/><text x="1200.5" y="1584">black</text></g>
<g id="n-red" class="n"><rect x="1497" y="1615" width="35" height="25" rx="5"/><text x="1514.5" y="1631.5">red</text></g>
<g id="n-blue" class="n"><rect x="1367" y="1627" width="41" height="25" rx="5"/><text x="1387.5" y="1643.5">blue</text></g>
<g id="n-morning" class="n"><rect x="1649" y="1699" width="67" height="27" rx="5"/><text x="1682.5" y="1716.5">morning</text></g>
<g id="n-endofday" class="n"><rect x="1772" y="1707" width="78" height="27" rx="5"/><text x="1811" y="1724.5">end of day</text></g>
<g id="n-white" class="n"><rect x="1081" y="1714" width="48" height="25" rx="5"/><text x="1105" y="1730.5">white</text></g>
<g id="n-businesscolor" class="n"><rect x="1185" y="1731" width="99" height="25" rx="5"/><text x="1234.5" y="1747.5">business color</text></g>
<g id="n-attention" class="n"><rect x="1548" y="1796" width="71" height="25" rx="5"/><text x="1583.5" y="1812.5">attention</text></g>
<g id="n-yellow" class="n"><rect x="1661" y="1800" width="53" height="26" rx="5"/><text x="1687.5" y="1817">yellow</text></g>
<g id="n-desire" class="n"><rect x="1311" y="1852" width="231" height="26" rx="5"/><text x="1426.5" y="1869">desire, strength, aggression danger</text></g>
<g id="n-calm" class="n"><rect x="1172" y="1936" width="178" height="26" rx="5"/><text x="1261" y="1953">calm, stability, trust, order</text></g>
<g id="n-happiness" class="n"><rect x="1485" y="2033" width="270" height="26" rx="5"/><text x="1620" y="2050">happiness, optimism, idealism, inspiration</text></g>
<g id="n-control" class="n"><rect x="1888" y="2103" width="56" height="24" rx="5"/><text x="1916" y="2119">control</text></g>
<g id="n-focus" class="n"><rect x="1992" y="2103" width="46" height="25" rx="5"/><text x="2015" y="2119.5">focus</text></g>
<g id="n-information" class="n"><rect x="2024" y="1484" width="84" height="24" rx="5"/><text x="2066" y="1500">information</text></g>
<g id="n-projects" class="n"><rect x="2458" y="1501" width="64" height="26" rx="5"/><text x="2490" y="1518">projects</text></g>
<g id="n-organization" class="n"><rect x="2137" y="1511" width="91" height="26" rx="5"/><text x="2182.5" y="1528">organization</text></g>
<g id="n-distance" class="n"><rect x="2702" y="1537" width="165" height="26" rx="5"/><text x="2784.5" y="1554">distance between people</text></g>
<g id="n-agenda" class="n"><rect x="2143" y="1615" width="61" height="26" rx="5"/><text x="2173.5" y="1632">agenda</text></g>
<g id="n-listening2" class="n"><rect x="2565" y="1626" width="67" height="27" rx="5"/><text x="2598.5" y="1643.5">listening</text></g>
<g id="n-afterlunch" class="n"><rect x="1949" y="1688" width="81" height="25" rx="5"/><text x="1989.5" y="1704.5">after lunch</text></g>
<g id="n-meetingoutline" class="n"><rect x="2316" y="1677" width="110" height="26" rx="5"/><text x="2371" y="1694">meeting outline</text></g>
<g id="n-facetoface" class="n"><rect x="2833" y="1466" width="86" height="25" rx="5"/><text x="2876" y="1482.5">face to face</text></g>
</g>
<g id="labels">
<text x="1410" y="117">affect</text>
<text x="1655" y="50">stimulate</text>
<text x="1586" y="81">come from</text>
<text x="978" y="214">example</text>
<text x="1829" y="255">removing</text>
<text x="1939" y="280">researched through</text>
<text x="1324" y="281">exampled by</text>
<text x="1673" y="295">increases</text>
<text x="1336" y="312">comes from</text>
<text x="1228" y="331">types</text>
<text x="1592" y="357">adding</text>
<text x="845" y="363">through</text>
<text x="1157" y="452">defined by</text>
<text x="1519" y="521">affect</text>
<text x="1585" y="502">looks at</text>
<text x="1906" y="566">includes</text>
<text x="1487" y="623">includes</text>
<text x="1343" y="667">defined by</text>
<text x="1092" y="679">affects</text>
<text x="1554" y="712">affected by</text>
<text x="2099" y="112">measured</text>
<text x="2199" y="303">come from</text>
<text x="2248" y="458">alter</text>
<text x="2261" y="543">into</text>
<text x="2042" y="590">developed by</text>
<text x="2864" y="544">consequences for</text>
<text x="2899" y="613">done by</text>
<text x="3001" y="402">identified</text>
<text x="3097" y="401">confirmed</text>
<text x="2970" y="445">through</text>
<text x="3213" y="437">company of</text>
<text x="2951" y="508">analyzed</text>
<text x="3174" y="504">through</text>
<text x="3066" y="547">case study by</text>
<text x="3184" y="593">helps</text>
<text x="3301" y="588">brings</text>
<text x="3403" y="659">factors</text>
<text x="2926" y="679">shown through</text>
<text x="3084" y="699">includes</text>
<text x="3378" y="721">conditions</text>
<text x="2937" y="729">done by</text>
<text x="3303" y="783">attributes</text>
<text x="3001" y="807">with</text>
<text x="3166" y="810">elements</text>
<text x="2918" y="1036">defined by</text>
<text x="2952" y="1183">defined by</text>
<text x="3267" y="1233">measured</text>
<text x="3075" y="1282">researched through</text>
<text x="447" y="961">characteristics</text>
<text x="282" y="1000">characteristics</text>
<text x="313" y="1156">example</text>
<text x="672" y="1171">categorized by</text>
<text x="191" y="1193">characteristics</text>
<text x="190" y="1249">through</text>
<text x="962" y="1282">by</text>
<text x="751" y="1313">techniques</text>
<text x="163" y="1309">characteristics</text>
<text x="708" y="1377">learn through</text>
<text x="672" y="1435">techniques</text>
<text x="685" y="1504">learned through</text>
<text x="729" y="1593">techniques</text>
<text x="876" y="1637">learned through</text>
<text x="1657" y="761">thinking from</text>
<text x="1860" y="787">Includes</text>
<text x="1923" y="781">includes</text>
<text x="1954" y="823">includes</text>
<text x="1029" y="838">example</text>
<text x="1168" y="832">through</text>
<text x="1341" y="848">enhances</text>
<text x="1728" y="829">entails</text>
<text x="1594" y="920">example</text>
<text x="1455" y="942">come from</text>
<text x="1134" y="984">defined by</text>
<text x="1703" y="1026">where</text>
<text x="1851" y="1020">through</text>
<text x="1306" y="1081">defined by</text>
<text x="1892" y="1102">how</text>
<text x="1068" y="1135">defined by</text>
<text x="1179" y="1165">stimulate</text>
<text x="1455" y="1168">road block</text>
<text x="1357" y="1215">distracted by</text>
<text x="1700" y="1235">are</text>
<text x="1667" y="1261">example</text>
<text x="1894" y="1260">learn best through</text>
<text x="1070" y="1322">different types of learner</text>
<text x="1609" y="1338">distracted by</text>
<text x="1762" y="1331">learn through participation in</text>
<text x="1477" y="1408">noise</text>
<text x="1477" y="1423">(Alty, 1999)</text>
<text x="2198" y="745">cause</text>
<text x="2438" y="791">cause</text>
<text x="2063" y="810">conflicted by</text>
<text x="2598" y="855">why held?</text>
<text x="2143" y="860">could include</text>
<text x="2437" y="998">defined by</text>
<text x="2261" y="1022">come from</text>
<text x="2715" y="1005">defined by</text>
<text x="1937" y="1075">have</text>
<text x="2323" y="1114">entails</text>
<text x="1975" y="1176">fill</text>
<text x="2119" y="1192">when</text>
<text x="2720" y="1197">types</text>
<text x="2326" y="1229">entails</text>
<text x="2385" y="1301">give</text>
<text x="2816" y="1283">associated with</text>
<text x="2708" y="1328">resolving</text>
<text x="2130" y="1351">have</text>
<text x="2503" y="1363">manage</text>
<text x="1837" y="1429">affected by</text>
<text x="1385" y="1547">colors</text>
<text x="1385" y="1561">(Colors and Moods, 2002)</text>
<text x="1714" y="1550">learn by</text>
<text x="1733" y="1615">lively</text>
<text x="1817" y="1629">antsy</text>
<text x="1903" y="1619">tired</text>
<text x="1125" y="1654">represents</text>
<text x="1304" y="1686">considered</text>
<text x="1463" y="1714">represents</text>
<text x="1548" y="1721">grabs</text>
<text x="1073" y="1799">represents</text>
<text x="1270" y="1848">represents</text>
<text x="1649" y="1996">represents</text>
<text x="2722" y="1438">include</text>
<text x="2567" y="1446">involve</text>
<text x="2208" y="1450">absorb</text>
<text x="2277" y="1462">keep</text>
<text x="2355" y="1532">plan</text>
<text x="2245" y="1565">prepare</text>
<text x="2178" y="1579">helps keep</text>
<text x="2004" y="1607">originates from</text>
<text x="2256" y="1650">includes</text>
</g>
</svg>
